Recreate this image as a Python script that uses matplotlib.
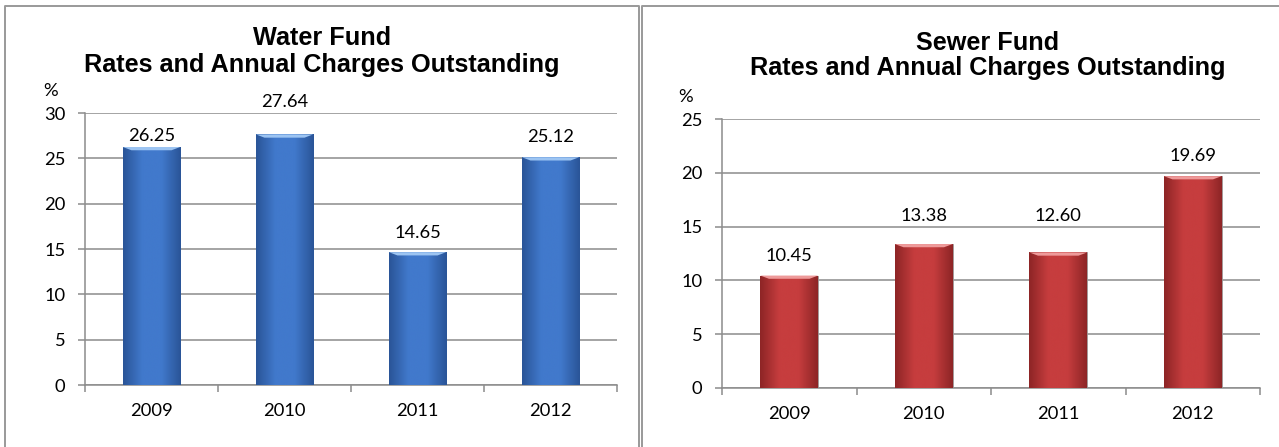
import matplotlib.pyplot as plt
import matplotlib.colors as mcolors
import numpy as np
from matplotlib.lines import Line2D

years = ["2009", "2010", "2011", "2012"]
water = [26.25, 27.64, 14.65, 25.12]
sewer = [10.45, 13.38, 12.60, 19.69]
water_labels = ["26.25", "27.64", "14.65", "25.12"]
sewer_labels = ["10.45", "13.38", "12.60", "19.69"]

# label centre offsets above bar tops, in points (as placed in the original chart)
water_offsets = [8, 23, 13.7, 14.4]
sewer_offsets = [14, 20.5, 26, 14.5]

W, H = 1279, 447
fig = plt.figure(figsize=(W / 100, H / 100), dpi=100)
fig.patch.set_facecolor("white")

TICK_FONT = "Lato"
TITLE_FONT = "Liberation Sans"
FS = 13.2


def bevel_bars(ax, bars, dark, mid, light):
   cmap = mcolors.LinearSegmentedColormap.from_list("b", [dark, mid, mid, dark])
   grad = np.linspace(0, 1, 64).reshape(1, -1)
   for b in bars:
      x0, w, h = b.get_x(), b.get_width(), b.get_height()
      im = ax.imshow(grad, extent=(x0, x0 + w, 0, h), aspect="auto",
                     cmap=cmap, zorder=3, interpolation="bicubic")
      im.set_clip_path(b)
      # light top bevel
      bh = ax.get_ylim()[1] * 0.012
      ax.fill([x0, x0 + w, x0 + w * 0.85, x0 + w * 0.15],
              [h, h, h - bh, h - bh], color=light, zorder=4, lw=0)
   ax.set_xlim(-0.5, len(bars) - 0.5)


def panel(rect, values, labels, offsets, ymax, dark, mid, light, pct_xy):
   ax = fig.add_axes(rect)
   x = np.arange(len(values))
   bars = ax.bar(x, values, width=0.43, color=mid, zorder=2, edgecolor="#9a9a9a", lw=0.6)
   ax.set_ylim(0, ymax)
   bevel_bars(ax, bars, dark, mid, light)
   for b, lab, off in zip(bars, labels, offsets):
      ax.annotate(lab, (b.get_x() + b.get_width() / 2, b.get_height()),
                  xytext=(0, off), textcoords="offset points", ha="center", va="center",
                  fontsize=FS, family=TICK_FONT, color="black")
   ax.set_yticks(np.arange(0, ymax + 1, 5))
   ax.yaxis.grid(True, color="#8c8c8c", lw=1.1, zorder=0)
   ax.set_axisbelow(True)
   for s in ["top", "right"]:
      ax.spines[s].set_visible(False)
   for s in ["left", "bottom"]:
      ax.spines[s].set_color("#8c8c8c")
      ax.spines[s].set_linewidth(1.1)
   ax.set_xticks(x)
   ax.set_xticklabels(years)
   ax.set_xticks(np.arange(-0.5, len(values), 1), minor=True)
   ax.tick_params(axis="x", which="major", length=0, pad=13)
   ax.tick_params(axis="x", which="minor", length=5, color="#8c8c8c", width=1.1)
   ax.tick_params(axis="y", length=5, color="#8c8c8c", width=1.1, pad=9)
   for t in ax.get_xticklabels() + ax.get_yticklabels():
      t.set_family(TICK_FONT)
      t.set_fontsize(FS)
   fig.text(pct_xy[0] / W, 1 - pct_xy[1] / H, "%", family=TICK_FONT, fontsize=FS,
            ha="center", va="center")
   return ax


panel([85 / W, (H - 385) / H, 532 / W, 272 / H], water, water_labels, water_offsets, 30,
      "#2a5598", "#4179cc", "#9cc4f2", (51, 91))
panel([722 / W, (H - 388) / H, 538 / W, 269 / H], sewer, sewer_labels, sewer_offsets, 25,
      "#8e2526", "#c63d3e", "#ee9a9a", (686, 97))

TS = 18.2
fig.text(322 / W, 1 - 38 / H, "Water Fund", family=TITLE_FONT, weight="bold",
         fontsize=TS, ha="center", va="center")
fig.text(322 / W, 1 - 65 / H, "Rates and Annual Charges Outstanding", family=TITLE_FONT,
         weight="bold", fontsize=TS, ha="center", va="center")
fig.text(988 / W, 1 - 43 / H, "Sewer Fund", family=TITLE_FONT, weight="bold",
         fontsize=TS, ha="center", va="center")
fig.text(988 / W, 1 - 68 / H, "Rates and Annual Charges Outstanding", family=TITLE_FONT,
         weight="bold", fontsize=TS, ha="center", va="center")

# chart borders
bc = "#999999"
def px_line(xs, ys):
   fig.add_artist(Line2D([v / W for v in xs], [1 - v / H for v in ys], color=bc, lw=1.4))

px_line([5, 5, 639, 639], [H + 2, 6, 6, H + 2])
px_line([642, 642, W + 2], [H + 2, 6, 6])

fig.savefig("out.png", dpi=100)
